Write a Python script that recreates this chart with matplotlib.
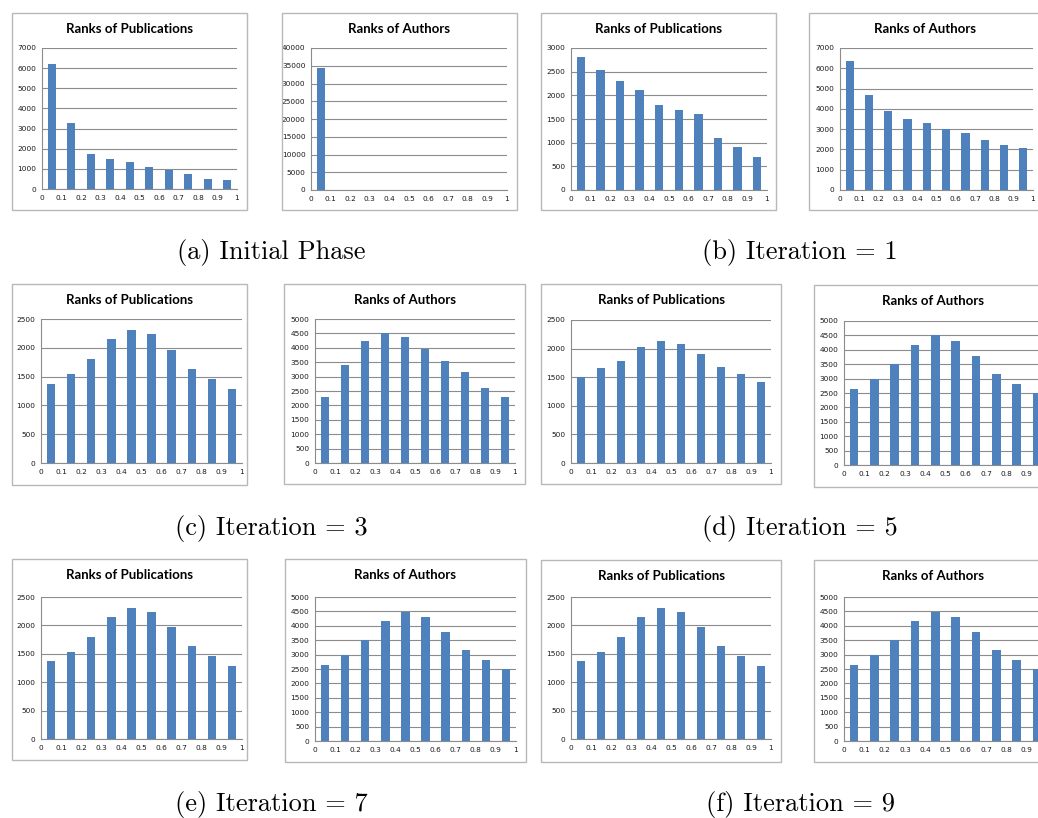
import numpy as np
import matplotlib.pyplot as plt
from matplotlib.patches import Rectangle

# rank bins and values
bins = np.arange(10) * 0.1 + 0.05
x_labels = ['0', '0.1', '0.2', '0.3', '0.4', '0.5', '0.6', '0.7', '0.8', '0.9', '1']

init_pubs = [6200, 3280, 1750, 1500, 1320, 1080, 920, 740, 500, 440]
init_auth = [34300, 0, 0, 0, 0, 0, 0, 0, 0, 0]
it1_pubs = [2820, 2540, 2300, 2120, 1800, 1680, 1600, 1090, 900, 690]
it1_auth = [6350, 4700, 3900, 3520, 3300, 3030, 2800, 2450, 2230, 2050]
it3_pubs = [1370, 1550, 1800, 2150, 2310, 2240, 1970, 1640, 1460, 1280]
it3_auth = [2280, 3420, 4230, 4500, 4360, 3950, 3530, 3150, 2600, 2300]
it5_pubs = [1500, 1660, 1790, 2030, 2140, 2080, 1910, 1680, 1560, 1410]
it5_auth = [2650, 2990, 3490, 4150, 4500, 4310, 3800, 3150, 2800, 2500]
it7_pubs = [1370, 1540, 1800, 2150, 2310, 2230, 1980, 1630, 1460, 1290]
it7_auth = [2650, 2990, 3490, 4150, 4490, 4300, 3800, 3150, 2800, 2490]
it9_pubs = [1370, 1540, 1800, 2150, 2310, 2230, 1980, 1630, 1460, 1290]
it9_auth = [2650, 2990, 3490, 4150, 4490, 4300, 3800, 3150, 2800, 2490]

captions = ['(a) Initial Phase', '(b) Iteration = 1', '(c) Iteration = 3',
            '(d) Iteration = 5', '(e) Iteration = 7', '(f) Iteration = 9']

W, H = 1038, 818
fig = plt.figure(figsize=(W / 100, H / 100), dpi=100)
fig.patch.set_facecolor('white')

BLUE = '#4F81BD'


def small_chart(box, plot, title, values, ymax, ystep):
    # outer grey frame of the excel chart
    bl, bt, br, bb = box
    fig.patches.append(Rectangle((bl / W, 1 - bb / H), (br - bl) / W, (bb - bt) / H,
                                 transform=fig.transFigure, fill=False,
                                 edgecolor='#b8b8b8', linewidth=1.0))
    l, t, r, b = plot
    if br < 1040:
        tx = (bl + br) / 2
    else:
        tx = (l + r) / 2 - 12
    fig.text(tx / W, 1 - (bt + 16) / H, title, ha='center', va='center',
             fontsize=9.5, fontweight='bold', family='Lato')
    ax = fig.add_axes([l / W, 1 - b / H, (r - l) / W, (b - t) / H])
    ax.bar(bins, values, width=0.042, color=BLUE, zorder=3)
    ax.set_xlim(0, 1)
    ax.set_ylim(0, ymax)
    ax.set_yticks(np.arange(0, ymax + 1, ystep))
    ax.set_xticks(np.arange(11) * 0.1)
    ax.set_xticklabels(x_labels)
    ax.grid(axis='y', color='#8c8c8c', linewidth=0.8, zorder=0)
    ax.set_axisbelow(True)
    for s in ['top', 'right']:
        ax.spines[s].set_visible(False)
    for s in ['left', 'bottom']:
        ax.spines[s].set_color('#8c8c8c')
        ax.spines[s].set_linewidth(0.8)
    ax.tick_params(length=0, labelsize=5.3, labelcolor='#1a1a1a', pad=4)
    for lab in ax.get_xticklabels() + ax.get_yticklabels():
        lab.set_family('DejaVu Sans')
    # the last label falls off the page edge for the cropped charts
    if r > W:
        ax.get_xticklabels()[-1].set_visible(False)
    return ax


# row 1
small_chart((12, 13, 247, 210), (42, 48, 237, 189), 'Ranks of Publications', init_pubs, 7000, 1000)
small_chart((282, 13, 517, 210), (311, 48, 507, 190), 'Ranks of Authors', init_auth, 40000, 5000)
small_chart((541, 13, 776, 210), (571, 48, 767, 190), 'Ranks of Publications', it1_pubs, 3000, 500)
small_chart((809, 13, 1045, 210), (840, 48, 1033, 190), 'Ranks of Authors', it1_auth, 7000, 1000)

# row 2
small_chart((12, 284, 247, 485), (41, 319, 242, 463), 'Ranks of Publications', it3_pubs, 2500, 500)
small_chart((284, 284, 525, 484), (315, 319, 515, 463), 'Ranks of Authors', it3_auth, 5000, 500)
small_chart((541, 284, 781, 484), (571, 320, 771, 463), 'Ranks of Publications', it5_pubs, 2500, 500)
small_chart((814, 285, 1060, 487), (844, 321, 1047, 465), 'Ranks of Authors', it5_auth, 5000, 500)

# row 3
small_chart((12, 559, 247, 760), (41, 597, 242, 739), 'Ranks of Publications', it7_pubs, 2500, 500)
small_chart((285, 559, 526, 762), (315, 597, 516, 741), 'Ranks of Authors', it7_auth, 5000, 500)
small_chart((541, 560, 781, 762), (571, 597, 771, 739), 'Ranks of Publications', it9_pubs, 2500, 500)
small_chart((814, 560, 1060, 762), (844, 597, 1047, 741), 'Ranks of Authors', it9_auth, 5000, 500)

cap_pos = [(271, 253), (800, 253), (271, 529), (800, 529), (271, 805), (800, 805)]
for (cx, cy), cap in zip(cap_pos, captions):
    fig.text(cx / W, 1 - cy / H, cap, ha='center', va='center',
             fontsize=19, family='cmr10')

fig.savefig('out.png', dpi=100)
